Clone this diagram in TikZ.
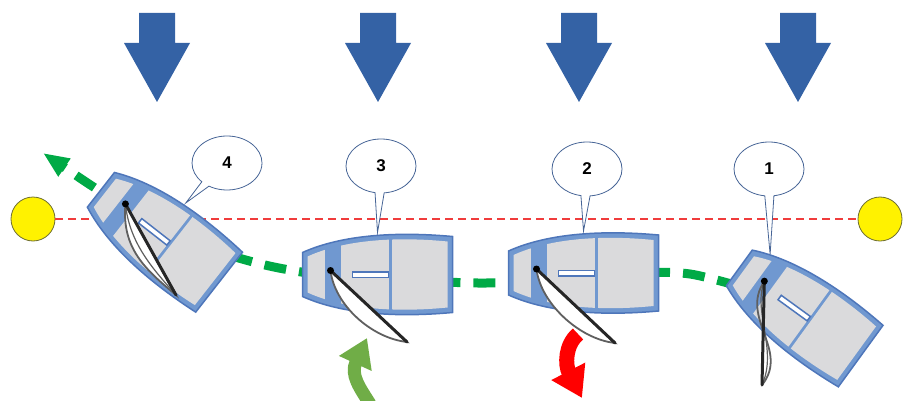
\documentclass[tikz,border=0pt]{standalone}
\usepackage{fontspec}
\setsansfont{Liberation Sans}
\usetikzlibrary{arrows.meta,shapes.callouts}
\definecolor{windblue}{RGB}{52,98,165}
\definecolor{hullblue}{RGB}{112,152,208}
\definecolor{hullline}{RGB}{78,118,186}
\definecolor{deckgray}{RGB}{218,218,220}
\definecolor{trackgreen}{RGB}{0,170,70}
\definecolor{turngreen}{RGB}{112,173,71}
\definecolor{linered}{RGB}{240,60,60}
\definecolor{callline}{RGB}{70,100,150}
\definecolor{sailgray}{RGB}{95,95,95}
\definecolor{buoyline}{RGB}{110,110,50}

\tikzset{
  dinghy/.pic={
    % hull, bow to the left
    \filldraw[fill=hullblue,draw=hullline,line width=1.5pt]
      (-75,-22) .. controls (-35,-40) and (20,-43) .. (75,-38)
      -- (75,38) .. controls (20,43) and (-35,40) .. (-75,22) -- cycle;
    \begin{scope}
      \clip (-70,-18) .. controls (-33,-35) and (20,-38) .. (70,-33)
        -- (70,33) .. controls (20,38) and (-33,35) .. (-70,18) -- cycle;
      \fill[deckgray] (-72,-45) rectangle (-53,45);
      \fill[deckgray] (-37,-45) rectangle (11,45);
      \fill[deckgray] (14,-45) rectangle (72,45);
    \end{scope}
    \filldraw[fill=white,draw=hullline,line width=1.5pt] (-25,-2.5) rectangle (11,3);
    \coordinate (-mast) at (-47,-4);
    \coordinate (-top) at (0,-42);
    \coordinate (-fore) at (-58,-29);
  },
  bubble/.style={ellipse callout,draw=callline,fill=white,line width=0.8pt,
    minimum width=70pt,minimum height=54pt,inner sep=0pt,
    font=\sffamily\bfseries\fontsize{17}{17}\selectfont},
  buoy/.style={circle,fill=yellow,draw=buoyline,line width=0.8pt,
    minimum size=44pt,inner sep=0pt},
  sail/.style={draw=sailgray,line width=1.8pt,fill=white},
  boom/.style={draw=black!85,line width=3pt,line cap=round}
}

\begin{document}
\begin{tikzpicture}[x=1pt,y=-1pt]
    \useasboundingbox (0,0) rectangle (909,401);

    % wind
    \foreach \c in {157,378,579,798} {
        \fill[windblue] (\c-18,13) -- (\c+18,13) -- (\c+18,43) -- (\c+33,43)
            -- (\c,102) -- (\c-33,43) -- (\c-18,43) -- cycle;
    }

    % start line
    \node[buoy] (buoyL) at (33,219) {};
    \node[buoy] (buoyR) at (880,219) {};
    \draw[linered,line width=1.8pt,dash pattern=on 8pt off 5pt] (buoyL) -- (buoyR);

    % track
    \draw[trackgreen,line width=9pt,dash pattern=on 22pt off 13pt,
          -{Triangle[length=26pt,width=20pt]}]
        plot[smooth] coordinates {(772,296) (690,274) (620,274) (540,281) (478,283)
            (400,280) (330,276) (265,265) (200,245) (130,210) (92,186) (43,153)};

    \pic[rotate=-36] (b1) at (800,312) {dinghy};
    \pic (b2) at (583.5,273) {dinghy};
    \pic (b3) at (377.5,274.5) {dinghy};
    \pic[rotate=-38] (b4) at (160,236) {dinghy};

    % sails
    \coordinate (clew1) at (762,385);
    \coordinate (clew2) at (615,343);
    \coordinate (clew3) at (407,342);
    \coordinate (clew4) at (176,295);

    \draw[sail,fill=none] (b1-mast) .. controls +(-25,37) and +(28,-35) .. (clew1);
    \draw[sail,fill=none,line width=1.2pt] (b1-mast) .. controls +(-12,30) and +(16,-35) .. (clew1);
    \draw[boom] (b1-mast) -- (clew1);
    \fill (b1-mast) circle (3.5pt);

    \filldraw[sail] (b2-mast) .. controls +(4,34) and +(-36,-4) .. (clew2) -- cycle;
    \draw[boom] (b2-mast) -- (clew2);
    \fill (b2-mast) circle (3.5pt);

    \filldraw[sail] (b3-mast) .. controls +(4,34) and +(-36,-4) .. (clew3) -- cycle;
    \draw[boom] (b3-mast) -- (clew3);
    \fill (b3-mast) circle (3.5pt);

    \filldraw[sail] (b4-mast) .. controls +(-4,45) and +(-30,-25) .. (clew4) -- cycle;
    \draw[sail,fill=none,line width=1.2pt] (b4-mast) .. controls +(4,40) and +(-22,-25) .. (clew4);
    \draw[boom] (b4-mast) -- (clew4);
    \fill (b4-mast) circle (3.5pt);

    % positions
    \node[bubble,callout absolute pointer={(b4-top)}] (n4) at (227,163) {4};
    \node[bubble,callout absolute pointer={(b3-top)}] (n3) at (381,166) {3};
    \node[bubble,callout absolute pointer={(b2-top)}] (n2) at (587,169) {2};
    \node[bubble,callout absolute pointer={(b1-fore)}] (n1) at (769,169) {1};

    % rudder
    \draw[turngreen,line width=13pt,-{Triangle[length=28pt,width=34pt]}]
        (370,404) .. controls (360,388) and (350,375) .. (367,338);
    \draw[red,line width=15pt,-{Triangle[length=30pt,width=36pt]}]
        (578,334) .. controls (565,345) and (565,365) .. (582,398);
\end{tikzpicture}
\end{document}
